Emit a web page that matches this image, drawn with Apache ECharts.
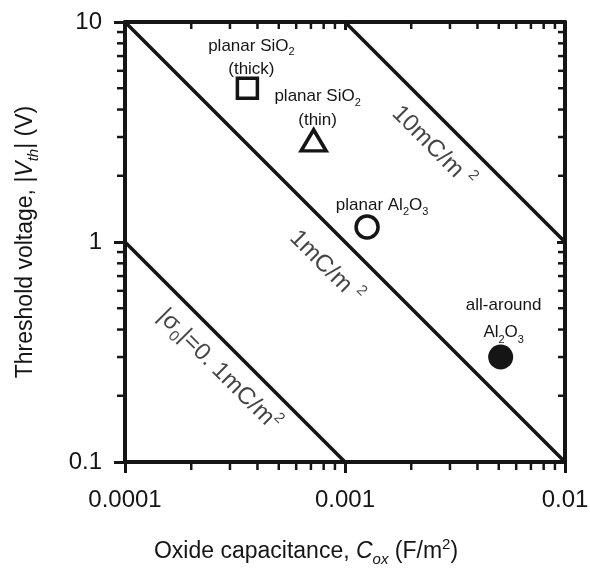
<!DOCTYPE html>
<html>
<head>
<meta charset="utf-8">
<script src="https://cdn.jsdelivr.net/npm/echarts@6/dist/echarts.min.js"></script>
<style>
  html, body { margin: 0; background: #fff; }
  #chart { width: 590px; height: 568px; }
</style>
</head>
<body>
<div id="chart"></div>
<script>
const xRange = [0.0001, 0.01];
const yRange = [0.1, 10];

// constant-charge lines, end points
const line01mC = [[0.0001, 1], [0.001, 0.1]];
const line1mC = [[0.0001, 10], [0.01, 0.1]];
const line10mC = [[0.001, 10], [0.01, 1]];

// measured devices
const thickSiO2 = [[0.00036, 5.0]];
const thinSiO2 = [[0.00072, 2.9]];
const planarAl2O3 = [[0.00126, 1.17]];
const allAroundAl2O3 = [[0.0051, 0.3]];

const xMinorTicks = [0.0002, 0.0003, 0.0004, 0.0005, 0.0006, 0.0007, 0.0008, 0.0009,
  0.002, 0.003, 0.004, 0.005, 0.006, 0.007, 0.008, 0.009];
const yMinorTicks = [0.2, 0.3, 0.4, 0.5, 0.6, 0.7, 0.8, 0.9, 2, 3, 4, 5, 6, 7, 8, 9];

// labels written along the charge lines
const lineNotes = [
  { text: '10mC/m {sup|2}', at: [0.00251, 2.70] },
  { text: '1mC/m {sup|2}', at: [0.00082, 0.77] },
  { text: '|σ{sub|0}|=0. 1mC/m{sup|2}', at: [0.000267, 0.262] },
];

const INK = '#151515';
const FONT = '"Liberation Sans", Arial, sans-serif';

const chart = echarts.init(document.getElementById('chart'));

const fmt = (v) => String(parseFloat(Number(v).toPrecision(3)));

const markRich = {
  sub: { fontSize: 11, lineHeight: 11, verticalAlign: 'bottom', fontFamily: FONT, color: INK },
};
const noteRich = {
  sub: { fontSize: 15, lineHeight: 13, verticalAlign: 'bottom', fontFamily: FONT, color: INK },
  sup: { fontSize: 15, lineHeight: 12, verticalAlign: 'top', fontFamily: FONT, color: INK },
};
const titleRich = {
  i: { fontStyle: 'italic', fontSize: 23, lineHeight: 30, fontFamily: FONT, color: INK },
  sub: { fontStyle: 'italic', fontSize: 15, lineHeight: 15, verticalAlign: 'bottom', fontFamily: FONT, color: INK },
  sup: { fontSize: 15, lineHeight: 15, verticalAlign: 'top', fontFamily: FONT, color: INK },
};

function chargeLine(data) {
  return {
    type: 'line',
    data,
    symbol: 'none',
    silent: true,
    lineStyle: { color: INK, width: 3.5 },
    z: 3,
  };
}

function tickSeries(data, size, offset) {
  return {
    type: 'scatter',
    data,
    symbol: 'rect',
    symbolSize: size,
    symbolOffset: offset,
    itemStyle: { color: INK, opacity: 1 },
    silent: true,
    clip: false,
    z: 6,
  };
}

function device(data, symbol, size, filled, text, offset, lineHeight) {
  return {
    type: 'scatter',
    data,
    symbol,
    symbolSize: size,
    silent: true,
    itemStyle: {
      color: filled ? INK : '#fff',
      borderColor: INK,
      borderWidth: filled ? 0 : 3.5,
      opacity: 1,
    },
    label: {
      show: true,
      position: 'top',
      distance: 5,
      offset,
      formatter: text,
      fontSize: 17,
      lineHeight,
      fontFamily: FONT,
      color: INK,
      opacity: 1,
      align: 'center',
      rich: markRich,
    },
    z: 8,
  };
}

const axisCommon = {
  type: 'log',
  logBase: 10,
  axisLine: { show: true, onZero: false, lineStyle: { color: INK, width: 4 } },
  splitLine: { show: false },
};

const option = {
  animation: false,
  backgroundColor: '#fff',
  grid: { left: 125, right: 25, top: 22, bottom: 106, outerBoundsMode: 'none', containLabel: false },
  xAxis: [
    {
      ...axisCommon,
      min: xRange[0],
      max: xRange[1],
      position: 'bottom',
      axisTick: { show: true, inside: false, length: 11, lineStyle: { color: INK, width: 3 } },
      axisLabel: { fontSize: 24, fontFamily: FONT, color: INK, margin: 26, formatter: fmt },
      name: 'Oxide capacitance, {i|C}{sub|ox} (F/m{sup|2})',
      nameLocation: 'middle',
      nameGap: 75,
      nameTextStyle: {
        fontSize: 23, lineHeight: 30, fontFamily: FONT, color: INK,
        padding: [0, 78, 0, 0], rich: titleRich,
      },
    },
    {
      ...axisCommon,
      min: xRange[0],
      max: xRange[1],
      position: 'top',
      axisTick: { show: true, inside: true, length: 8, lineStyle: { color: INK, width: 3 } },
      axisLabel: { show: false },
    },
  ],
  yAxis: [
    {
      ...axisCommon,
      min: yRange[0],
      max: yRange[1],
      position: 'left',
      axisTick: { show: true, inside: false, length: 11, lineStyle: { color: INK, width: 3 } },
      axisLabel: { fontSize: 24, fontFamily: FONT, color: INK, margin: 23, formatter: fmt },
      name: 'Threshold voltage, |{i|V}{sub|th}| (V)',
      nameLocation: 'middle',
      nameGap: 84,
      nameTextStyle: { fontSize: 23, lineHeight: 30, fontFamily: FONT, color: INK, rich: titleRich },
    },
    {
      ...axisCommon,
      min: yRange[0],
      max: yRange[1],
      position: 'right',
      axisTick: { show: true, inside: true, length: 8, lineStyle: { color: INK, width: 3 } },
      axisLabel: { show: false },
    },
  ],
  series: [
    chargeLine(line01mC),
    chargeLine(line1mC),
    chargeLine(line10mC),
    tickSeries(xMinorTicks.map((x) => [x, yRange[0]]), [2.5, 8], [0, 4]),
    tickSeries(yMinorTicks.map((y) => [xRange[0], y]), [8, 2.5], [-4, 0]),
    tickSeries(xMinorTicks.map((x) => [x, yRange[1]]), [2.5, 7], [0, 3.5]),
    tickSeries(yMinorTicks.map((y) => [xRange[1], y]), [7, 2.5], [-3.5, 0]),
    device(thickSiO2, 'rect', 20, false, 'planar SiO{sub|2}\n(thick)', [4, 9], 23),
    device(thinSiO2, 'triangle', [25, 21], false, 'planar SiO{sub|2}\n(thin)', [4, 9], 24),
    device(planarAl2O3, 'circle', 22, false, 'planar Al{sub|2}O{sub|3}', [15, 8], 23),
    device(allAroundAl2O3, 'circle', 25, true, 'all-around\nAl{sub|2}O{sub|3}', [3, 6], 27),
    {
      type: 'scatter',
      symbolSize: 0,
      silent: true,
      data: lineNotes.map((n) => ({ value: n.at, label: { formatter: n.text } })),
      label: {
        show: true,
        position: 'inside',
        rotate: -45,
        fontSize: 24,
        lineHeight: 32,
        fontFamily: FONT,
        color: INK,
        align: 'center',
        verticalAlign: 'middle',
        rich: noteRich,
      },
      z: 7,
    },
  ],
};

chart.setOption(option);
</script>
</body>
</html>
